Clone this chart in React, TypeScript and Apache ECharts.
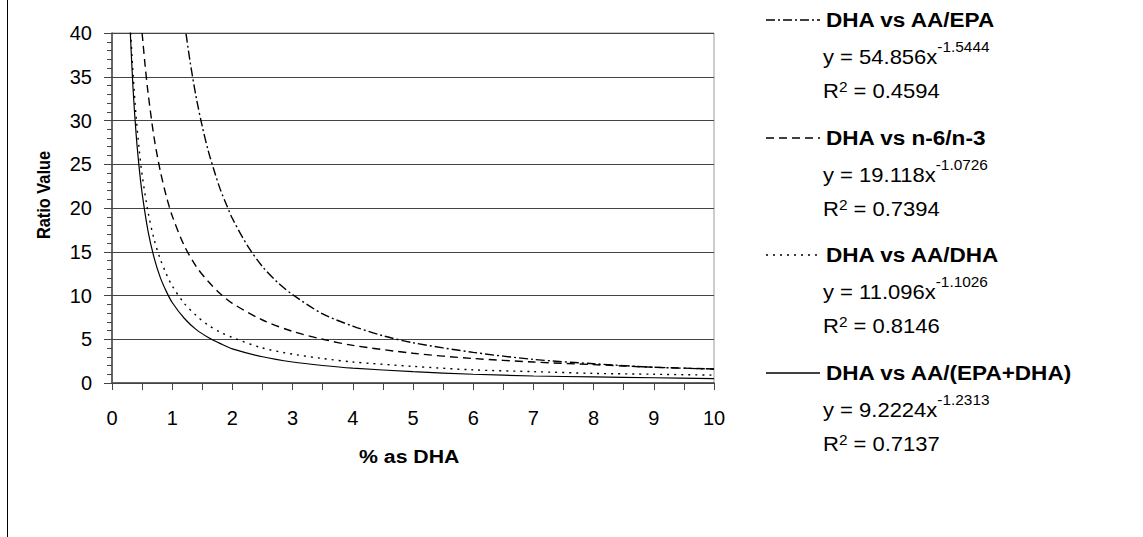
import React, { useEffect, useRef } from "react";
import * as echarts from "echarts";

// DHA vs AA/EPA (dash-dot)
const epaX = [1.23, 1.3, 1.4, 1.5, 1.6, 1.7, 1.8, 1.9, 2.0, 2.25, 2.5, 2.75, 3, 3.5, 4, 4.5, 5, 6, 7, 8, 9, 10];
const epaY = [39.9, 36.6, 32.6, 29.3, 26.5, 24.2, 22.1, 20.4, 18.8, 15.7, 13.3, 11.5, 10.1, 7.9, 6.5, 5.4, 4.6, 3.5, 2.7, 2.2, 1.8, 1.6];
// DHA vs n-6/n-3 (dashed)
const n6X = [0.5, 0.55, 0.6, 0.7, 0.8, 0.9, 1.0, 1.2, 1.4, 1.6, 1.8, 2.0, 2.5, 3, 3.5, 4, 5, 6, 7, 8, 9, 10];
const n6Y = [40.0, 36.3, 33.1, 28.0, 24.3, 21.4, 19.1, 15.7, 13.3, 11.6, 10.2, 9.1, 7.2, 5.9, 5.0, 4.3, 3.4, 2.8, 2.4, 2.1, 1.8, 1.6];
// DHA vs AA/DHA (dotted)
const dhaX = [0.31, 0.35, 0.4, 0.45, 0.5, 0.6, 0.7, 0.8, 0.9, 1.0, 1.2, 1.4, 1.6, 1.8, 2.0, 2.5, 3, 3.5, 4, 5, 6, 7, 8, 9, 10];
const dhaY = [40, 35.3, 30.5, 26.8, 23.8, 19.5, 16.4, 14.2, 12.5, 11.1, 9.1, 7.7, 6.6, 5.8, 5.2, 4.0, 3.3, 2.8, 2.4, 1.9, 1.5, 1.3, 1.1, 1.0, 0.9];
// DHA vs AA/(EPA+DHA) (solid)
const sumX = [0.3, 0.35, 0.4, 0.45, 0.5, 0.6, 0.7, 0.8, 0.9, 1.0, 1.2, 1.4, 1.6, 1.8, 2.0, 2.5, 3, 3.5, 4, 5, 6, 7, 8, 9, 10];
const sumY = [40.6, 33.6, 28.5, 24.7, 21.7, 17.3, 14.3, 12.1, 10.5, 9.2, 7.4, 6.1, 5.2, 4.5, 3.9, 3.0, 2.4, 2.0, 1.7, 1.3, 1.0, 0.8, 0.7, 0.6, 0.5];

const seriesNames = ["DHA vs AA/EPA", "DHA vs n-6/n-3", "DHA vs AA/DHA", "DHA vs AA/(EPA+DHA)"];
const coefs = ["54.856", "19.118", "11.096", "9.2224"];
const exps = ["-1.5444", "-1.0726", "-1.1026", "-1.2313"];
const r2s = ["0.4594", "0.7394", "0.8146", "0.7137"];
const xTitle = "% as DHA";
const yTitle = "Ratio Value";

const FONT = "'Liberation Sans', Arial, Helvetica, sans-serif";
const dashes: any[] = [[9, 3, 2, 3], [8, 5], [2, 5], "solid"];

export default function App() {
  const ref = useRef<HTMLDivElement>(null);
  useEffect(() => {
    if (!ref.current) return;
    const chart = echarts.init(ref.current, undefined, { renderer: "svg" });
    const xs = [epaX, n6X, dhaX, sumX];
    const ys = [epaY, n6Y, dhaY, sumY];
    const series = seriesNames.map((name, i) => ({
      name,
      type: "line",
      data: xs[i].map((x, j) => [x, ys[i][j]]),
      showSymbol: false,
      symbol: "none",
      smooth: 0.3,
      lineStyle: { color: "#000", width: i === 3 ? 1.2 : 1.4, type: dashes[i] },
      z: 3,
    }));

    const nameY = [20, 138, 255, 373];
    const legend: any[] = [];
    nameY.forEach((ny, i) => {
      legend.push({
        type: "line",
        shape: { x1: 766, y1: ny, x2: 820, y2: ny },
        style: { stroke: "#000", lineWidth: 1.4, lineDash: dashes[i] === "solid" ? null : dashes[i] },
      });
      legend.push({
        type: "text",
        x: 826,
        y: ny,
        scaleX: 1.1,
        style: { text: seriesNames[i], font: `bold 20.5px ${FONT}`, fill: "#000", verticalAlign: "middle", align: "left" },
      });
      legend.push({
        type: "text",
        x: 823,
        y: ny + 37,
        scaleX: 1.1,
        style: {
          text: `{m|y = ${coefs[i]}x}{s|${exps[i]}}`,
          verticalAlign: "middle",
          align: "left",
          rich: {
            m: { fontSize: 20, fontFamily: FONT, fill: "#000", lineHeight: 33 },
            s: { fontSize: 14, fontFamily: FONT, fill: "#000", lineHeight: 14, verticalAlign: "top" },
          },
        },
      });
      legend.push({
        type: "text",
        x: 823,
        y: ny + 71,
        scaleX: 1.1,
        style: {
          text: `{m|R}{s|2}{m| = ${r2s[i]}}`,
          verticalAlign: "middle",
          align: "left",
          rich: {
            m: { fontSize: 20, fontFamily: FONT, fill: "#000", lineHeight: 22 },
            s: { fontSize: 14, fontFamily: FONT, fill: "#000", lineHeight: 14, verticalAlign: "top" },
          },
        },
      });
    });

    chart.setOption({
      animation: false,
      backgroundColor: "#fff",
      grid: { left: 112, top: 33, width: 602, height: 350, show: true, borderColor: "#999", borderWidth: 1 },
      xAxis: {
        type: "value",
        min: 0,
        max: 10,
        interval: 0.5,
        axisLine: { show: true, lineStyle: { color: "#444", width: 1.5 } },
        axisTick: { show: true, length: 7, lineStyle: { color: "#444" } },
        splitLine: { show: false },
        axisLabel: {
          fontSize: 20,
          fontFamily: FONT,
          color: "#000",
          margin: 25,
          showMaxLabel: true,
          formatter: (v: number) => (Number.isInteger(v) ? String(v) : ""),
        },
      },
      yAxis: {
        type: "value",
        min: 0,
        max: 40,
        interval: 5,
        axisLine: { show: true, lineStyle: { color: "#444", width: 1.5 } },
        axisTick: { show: true, length: 8, lineStyle: { color: "#444" } },
        minorTick: { show: true, splitNumber: 5, length: 5, lineStyle: { color: "#444" } },
        splitLine: { show: true, lineStyle: { color: "#444", width: 1 } },
        axisLabel: { fontSize: 20, fontFamily: FONT, color: "#000", margin: 20 },
      },
      graphic: [
        { type: "line", shape: { x1: 7.5, y1: 0, x2: 7.5, y2: 537 }, style: { stroke: "#000", lineWidth: 1 } },
        {
          type: "text",
          x: 359,
          y: 456,
          scaleX: 1.12,
          style: { text: xTitle, font: `bold 19px ${FONT}`, fill: "#000", verticalAlign: "middle", align: "left" },
        },
        {
          type: "text",
          x: 43.5,
          y: 195,
          rotation: Math.PI / 2,
          scaleX: 0.86,
          style: { text: yTitle, font: `bold 19px ${FONT}`, fill: "#000", verticalAlign: "middle", align: "center" },
        },
        ...legend,
      ],
      series,
    });
    return () => chart.dispose();
  }, []);
  return <div ref={ref} style={{ position: "fixed", left: 0, top: 0, width: 1143, height: 537 }} />;
}
